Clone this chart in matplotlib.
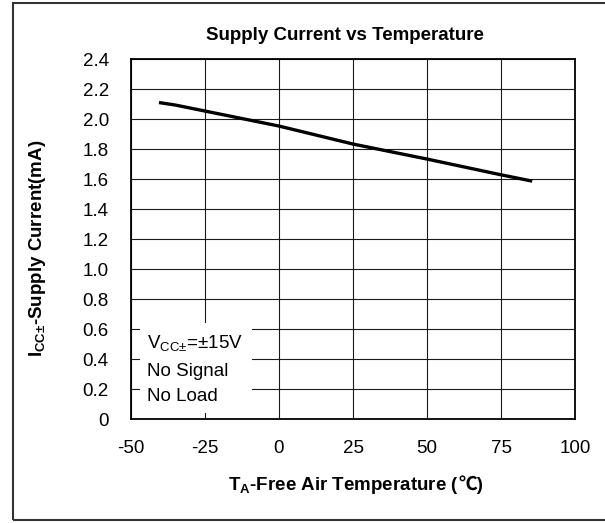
import matplotlib
matplotlib.use('Agg')
import matplotlib.pyplot as plt
from matplotlib.patches import Rectangle

# values
temperature = [-40, -35, -25, -10, 0, 25, 50, 75, 85]
supply_current = [2.11, 2.095, 2.055, 1.995, 1.955, 1.835, 1.735, 1.63, 1.59]

x_ticks = [-50, -25, 0, 25, 50, 75, 100]
y_ticks = [0, 0.2, 0.4, 0.6, 0.8, 1.0, 1.2, 1.4, 1.6, 1.8, 2.0, 2.2, 2.4]
y_tick_labels = ['0', '0.2', '0.4', '0.6', '0.8', '1.0', '1.2', '1.4', '1.6',
                 '1.8', '2.0', '2.2', '2.4']

note_lines = ['V$_{CC±}$=±15V', 'No Signal', 'No Load']

plt.rcParams['font.family'] = ['Liberation Sans', 'DejaVu Sans']
plt.rcParams['mathtext.default'] = 'regular'
plt.rcParams['axes.unicode_minus'] = False

W, H = 605, 523
FS = 13.5

fig = plt.figure(figsize=(W / 100, H / 100), dpi=100)


def fx(x):
    return x / W


def fy(y):
    return 1 - y / H


ax = fig.add_axes([fx(131), fy(419.3), 444 / W, 360 / H])
ax.plot(temperature, supply_current, color='black', lw=2.4, zorder=3)
ax.set_xlim(-50, 100)
ax.set_ylim(0, 2.4)
ax.set_xticks(x_ticks)
ax.set_yticks(y_ticks)
ax.set_yticklabels(y_tick_labels)
ax.tick_params(length=0, labelsize=FS)
ax.tick_params(axis='x', pad=15)
ax.tick_params(axis='y', pad=16)
ax.set_axisbelow(True)
ax.grid(True, color='#1a1a1a', lw=0.8)
for s in ax.spines.values():
    s.set_linewidth(1.3)
    s.set_color('black')

# white box behind the conditions note
ax.add_patch(Rectangle((-46.96, 0.042), 37.76, 0.6, facecolor='white',
                       edgecolor='none', zorder=1))
for line, yb in zip(note_lines, [0.473, 0.289, 0.124]):
    ax.text(-44.7, yb, line, fontsize=FS, va='baseline', ha='left', zorder=4)

fig.text(fx(345), fy(40), 'Supply Current vs Temperature', fontsize=FS,
         fontweight='bold', ha='center', va='baseline')

fig.text(fx(42), fy(248.5), 'I$_{CC±}$-Supply Current(mA)', fontsize=FS,
         fontweight='bold', rotation=90, rotation_mode='anchor',
         ha='center', va='baseline')

renderer = fig.canvas.get_renderer()
t1 = fig.text(fx(228), fy(490), 'T$_{A}$-Free Air Temperature (', fontsize=FS,
              fontweight='bold', ha='left', va='baseline')
bb = t1.get_window_extent(renderer)
fig.text(bb.x1 / W, fy(490), '℃)', fontsize=FS, fontweight='bold',
         family=['Liberation Sans', 'Noto Sans CJK SC'], ha='left', va='baseline')

# outer frame
fig.add_artist(Rectangle((fx(12.5), fy(520)), fx(610) - fx(12.5), fy(3) - fy(520),
                         transform=fig.transFigure, fill=False,
                         edgecolor='#333333', lw=1.5))

fig.savefig('out.png', dpi=100)
